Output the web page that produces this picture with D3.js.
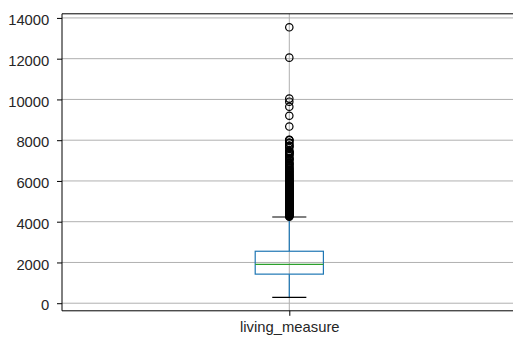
<!DOCTYPE html>
<html><head><meta charset="utf-8">
<script src="https://cdn.jsdelivr.net/npm/d3@7"></script>
<style>html,body{margin:0;padding:0;background:#fff;}svg{display:block;}</style>
</head><body>
<svg id="c" width="513" height="337"></svg>
<script>
const category = "living_measure";
const boxStats = {q1: 1427, median: 1910, q3: 2550, whiskerLow: 290, whiskerHigh: 4230};
const outliers = [13540, 12050, 10040, 9890, 9640, 9200, 8670,
  8020, 8010, 8000, 7880, 7850, 7730, 7720, 7710, 7620, 7480, 7440, 7420, 7400, 7390, 7350, 7320, 7270, 7220,
  7120, 7100, 7080, 7050, 7000, 6900, 6880, 6840, 6810, 6770, 6720, 6660, 6640, 6600, 6560, 6530, 6500, 6460,
  6430, 6400, 6370, 6330, 6300, 6270, 6240, 6210, 6180, 6150, 6120, 6090, 6070, 6040, 6010, 5990, 5960, 5940,
  5910, 5890, 5860, 5840, 5820, 5790, 5770, 5750, 5730, 5710, 5690, 5670, 5650, 5630, 5610, 5590, 5570, 5550,
  5530, 5510, 5490, 5470, 5450, 5430, 5410, 5390, 5370, 5350, 5330, 5310, 5290, 5270, 5250, 5230, 5210, 5190,
  5170, 5150, 5130, 5110, 5090, 5070, 5050, 5030, 5010, 4990, 4970, 4950, 4930, 4910, 4890, 4870, 4850, 4830,
  4810, 4790, 4770, 4750, 4730, 4710, 4690, 4670, 4650, 4630, 4610, 4590, 4570, 4550, 4530, 4510, 4490, 4470,
  4450, 4430, 4410, 4390, 4370, 4350, 4330, 4310, 4290, 4270, 4250];
const yTicks = [0, 2000, 4000, 6000, 8000, 10000, 12000, 14000];

const svg = d3.select("#c");
const L = 62, R = 516.6, T = 13.8, B = 310.8;
const x = d3.scaleLinear().domain([0.5, 1.5]).range([L, R]);
const y = d3.scaleLinear().domain([-372.5, 14202.5]).range([B, T]);
const grid = "#b0b0b0";
const font = "'Liberation Sans', Arial, sans-serif";
const fs = 14.8;

// grid
svg.append("g").selectAll("line").data(yTicks).join("line")
  .attr("x1", L).attr("x2", R).attr("y1", d => y(d)).attr("y2", d => y(d))
  .attr("stroke", grid).attr("stroke-width", 1);
svg.append("line").attr("x1", x(1)).attr("x2", x(1)).attr("y1", T).attr("y2", B)
  .attr("stroke", grid).attr("stroke-width", 1);

// box
const bw = 0.15, cw = 0.075;
const g = svg.append("g");
g.append("line").attr("x1", x(1)).attr("x2", x(1)).attr("y1", y(boxStats.q1)).attr("y2", y(boxStats.whiskerLow))
  .attr("stroke", "#1f77b4").attr("stroke-width", 1.2);
g.append("line").attr("x1", x(1)).attr("x2", x(1)).attr("y1", y(boxStats.q3)).attr("y2", y(boxStats.whiskerHigh))
  .attr("stroke", "#1f77b4").attr("stroke-width", 1.2);
g.append("rect").attr("x", x(1 - bw / 2)).attr("width", x(1 + bw / 2) - x(1 - bw / 2))
  .attr("y", y(boxStats.q3)).attr("height", y(boxStats.q1) - y(boxStats.q3))
  .attr("fill", "none").attr("stroke", "#1f77b4").attr("stroke-width", 1.2);
g.append("line").attr("x1", x(1 - bw / 2)).attr("x2", x(1 + bw / 2)).attr("y1", y(boxStats.median)).attr("y2", y(boxStats.median))
  .attr("stroke", "#2ca02c").attr("stroke-width", 1.2);
[boxStats.whiskerLow, boxStats.whiskerHigh].forEach(v => {
  g.append("line").attr("x1", x(1 - cw / 2)).attr("x2", x(1 + cw / 2)).attr("y1", y(v)).attr("y2", y(v))
    .attr("stroke", "#000").attr("stroke-width", 1.2);
});
// fliers
g.append("g").selectAll("circle").data(outliers).join("circle")
  .attr("cx", x(1)).attr("cy", d => y(d)).attr("r", 3.7)
  .attr("fill", "none").attr("stroke", "#000").attr("stroke-width", 1.2);

// spines
svg.append("line").attr("x1", L).attr("x2", L).attr("y1", T).attr("y2", B).attr("stroke", "#000").attr("stroke-width", 1);
svg.append("line").attr("x1", L).attr("x2", R).attr("y1", T).attr("y2", T).attr("stroke", "#000").attr("stroke-width", 1);
svg.append("line").attr("x1", L).attr("x2", R).attr("y1", B).attr("y2", B).attr("stroke", "#000").attr("stroke-width", 1);

// y axis
const ya = svg.append("g").attr("transform", `translate(${L},0)`)
  .call(d3.axisLeft(y).tickValues(yTicks).tickSize(5).tickPadding(7.7).tickFormat(d3.format("d")));
ya.select(".domain").remove();
ya.selectAll("line").attr("stroke", "#000");
ya.selectAll("text").attr("font-family", font).attr("font-size", fs).attr("fill", "#262626")
  .attr("dy", "0.45em");

// x axis
const xa = svg.append("g").attr("transform", `translate(0,${B})`)
  .call(d3.axisBottom(x).tickValues([1]).tickSize(5).tickPadding(6).tickFormat(() => category));
xa.select(".domain").remove();
xa.selectAll("line").attr("stroke", "#000");
xa.selectAll("text").attr("font-family", font).attr("font-size", fs).attr("fill", "#262626");
</script>
</body></html>
